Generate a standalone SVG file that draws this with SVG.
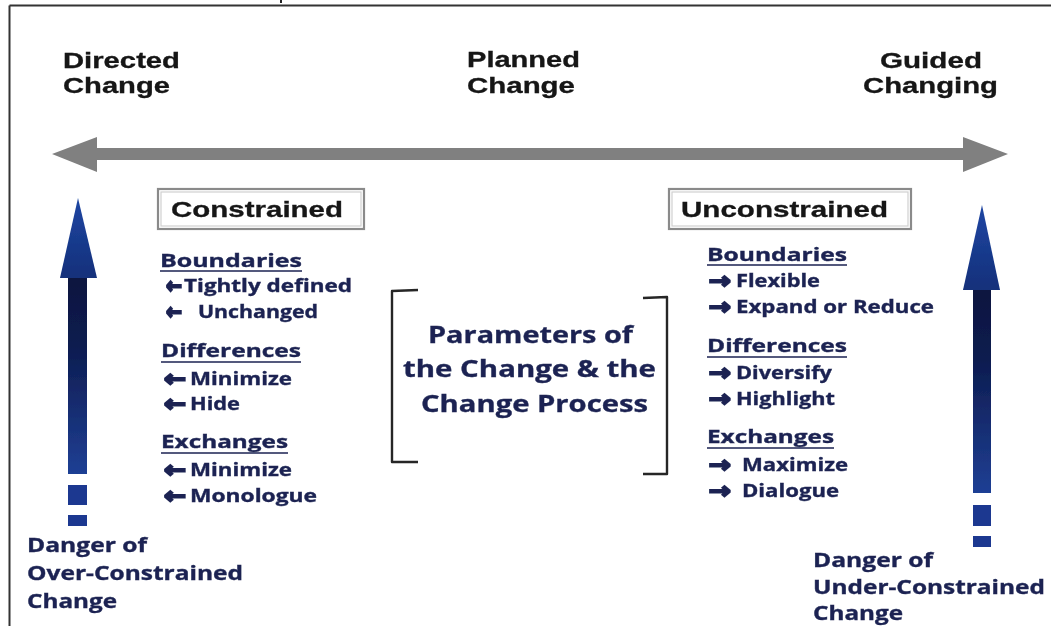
<svg xmlns="http://www.w3.org/2000/svg" width="1051" height="626" viewBox="0 0 1051 626">
  <defs>
    <linearGradient id="shaftGrad" x1="0" y1="0" x2="0" y2="1">
      <stop offset="0" stop-color="#0a163f"/>
      <stop offset="0.35" stop-color="#0d1c50"/>
      <stop offset="1" stop-color="#1f3f94"/>
    </linearGradient>
    <linearGradient id="headGrad" x1="0" y1="0" x2="0" y2="1">
      <stop offset="0" stop-color="#1f46a3"/>
      <stop offset="1" stop-color="#13307a"/>
    </linearGradient>
    <filter id="soft" x="-5%" y="-5%" width="110%" height="110%">
      <feGaussianBlur stdDeviation="0.45"/>
    </filter>
    <style>
      .hdr { font-family: "Liberation Sans", Arial, sans-serif; font-weight: bold; font-size: 22px; fill: #141414; stroke: #141414; stroke-width: 0.3; }
      .box { fill: #ffffff; stroke: #8a8a8a; stroke-width: 2.2; }
      .boxIn { fill: none; stroke: #d0d0d0; stroke-width: 1.2; }
      .boxTxt { font-family: "Liberation Sans", Arial, sans-serif; font-weight: bold; font-size: 22px; fill: #161616; stroke: #161616; stroke-width: 0.3; }
      .item { font-family: "Open Sans", "Liberation Sans", sans-serif; font-weight: bold; font-size: 17px; fill: #1c2452; stroke: #1c2452; stroke-width: 0.35; }
      .arr { font-family: "DejaVu Sans", sans-serif; font-weight: bold; font-size: 22px; fill: #1c2452; stroke: #1c2452; stroke-width: 2; stroke-linejoin: miter; }
      .ul { stroke: #1c2452; stroke-width: 1.6; }
      .mid { font-family: "Open Sans", "Liberation Sans", sans-serif; font-weight: bold; font-size: 24px; fill: #1c2452; stroke: #1c2452; stroke-width: 0.35; }
      .danger { font-family: "Open Sans", "Liberation Sans", sans-serif; font-weight: bold; font-size: 19px; fill: #1c2452; stroke: #1c2452; stroke-width: 0.35; }
      .brk { fill: none; stroke: #262626; stroke-width: 2.4; stroke-linejoin: round; }
      .dash { fill: #1a3890; }
    </style>
  </defs>

  <rect width="1051" height="626" fill="#ffffff"/>

  <!-- outer frame: top and left rules only -->
  <g id="frame">
    <line x1="9.5" y1="5.5" x2="1051" y2="5.5" stroke="#333333" stroke-width="2"/>
    <line x1="9.5" y1="5.5" x2="9.5" y2="626" stroke="#333333" stroke-width="2"/>
    <rect x="280" y="0" width="2" height="3" fill="#222222"/>
  </g>

  <g filter="url(#soft)">
    <!-- connectors: horizontal scale and the two vertical danger arrows -->
    <g id="connectors">
      <polygon id="scale-arrow" fill="#808080"
        points="52,154 97,137 97,148 963,148 963,137 1008,154 963,172 963,160 97,160 97,172"/>
      <g id="arrow-over">
        <polygon points="78,198 97,278 60,278" fill="url(#headGrad)"/>
        <rect x="68" y="278" width="19" height="196" fill="url(#shaftGrad)"/>
        <rect class="dash" x="68" y="485" width="19" height="20"/>
        <rect class="dash" x="68" y="515" width="19" height="11"/>
      </g>
      <g id="arrow-under">
        <polygon points="982,205 1000,290 963,290" fill="url(#headGrad)"/>
        <rect x="973" y="290" width="18" height="203" fill="url(#shaftGrad)"/>
        <rect class="dash" x="973" y="505" width="18" height="21"/>
        <rect class="dash" x="973" y="536" width="18" height="11"/>
      </g>
    </g>

    <!-- scale headings -->
    <g id="directed-change">
      <text class="hdr" x="63" y="68" textLength="117" lengthAdjust="spacingAndGlyphs">Directed</text>
      <text class="hdr" x="63" y="93" textLength="107" lengthAdjust="spacingAndGlyphs">Change</text>
    </g>
    <g id="planned-change">
      <text class="hdr" x="467" y="67" textLength="113" lengthAdjust="spacingAndGlyphs">Planned</text>
      <text class="hdr" x="467" y="93" textLength="108" lengthAdjust="spacingAndGlyphs">Change</text>
    </g>
    <g id="guided-changing">
      <text class="hdr" x="880" y="68" textLength="102" lengthAdjust="spacingAndGlyphs">Guided</text>
      <text class="hdr" x="863" y="93" textLength="135" lengthAdjust="spacingAndGlyphs">Changing</text>
    </g>

    <!-- constrained side -->
    <g id="constrained">
      <rect class="box" x="158" y="189" width="206" height="40"/>
      <rect class="boxIn" x="161" y="192" width="200" height="34"/>
      <text class="boxTxt" x="171" y="217" textLength="172" lengthAdjust="spacingAndGlyphs">Constrained</text>
    </g>
    <g id="constrained-list">
      <text class="item" x="160" y="267" textLength="142" lengthAdjust="spacingAndGlyphs">Boundaries</text>
      <line class="ul" x1="160" y1="271" x2="302" y2="271"/>
      <text class="arr" x="166" y="293" textLength="16" lengthAdjust="spacingAndGlyphs">←</text>
      <text class="item" x="184" y="292" textLength="168" lengthAdjust="spacingAndGlyphs">Tightly defined</text>
      <text class="arr" x="166" y="319" textLength="16" lengthAdjust="spacingAndGlyphs">←</text>
      <text class="item" x="198" y="318" textLength="120" lengthAdjust="spacingAndGlyphs">Unchanged</text>

      <text class="item" x="161" y="357" textLength="140" lengthAdjust="spacingAndGlyphs">Differences</text>
      <line class="ul" x1="161" y1="362" x2="301" y2="362"/>
      <text class="arr" x="164" y="386" textLength="22" lengthAdjust="spacingAndGlyphs">←</text>
      <text class="item" x="190" y="385" textLength="102" lengthAdjust="spacingAndGlyphs">Minimize</text>
      <text class="arr" x="164" y="411" textLength="22" lengthAdjust="spacingAndGlyphs">←</text>
      <text class="item" x="190" y="410" textLength="50" lengthAdjust="spacingAndGlyphs">Hide</text>

      <text class="item" x="161" y="448" textLength="127" lengthAdjust="spacingAndGlyphs">Exchanges</text>
      <line class="ul" x1="161" y1="453" x2="288" y2="453"/>
      <text class="arr" x="164" y="477" textLength="22" lengthAdjust="spacingAndGlyphs">←</text>
      <text class="item" x="190" y="476" textLength="102" lengthAdjust="spacingAndGlyphs">Minimize</text>
      <text class="arr" x="164" y="503" textLength="22" lengthAdjust="spacingAndGlyphs">←</text>
      <text class="item" x="190" y="502" textLength="127" lengthAdjust="spacingAndGlyphs">Monologue</text>
    </g>

    <!-- unconstrained side -->
    <g id="unconstrained">
      <rect class="box" x="669" y="189" width="242" height="40"/>
      <rect class="boxIn" x="672" y="192" width="236" height="34"/>
      <text class="boxTxt" x="681" y="217" textLength="207" lengthAdjust="spacingAndGlyphs">Unconstrained</text>
    </g>
    <g id="unconstrained-list">
      <text class="item" x="707" y="261" textLength="140" lengthAdjust="spacingAndGlyphs">Boundaries</text>
      <line class="ul" x1="707" y1="265" x2="847" y2="265"/>
      <text class="arr" x="709" y="288" textLength="22" lengthAdjust="spacingAndGlyphs">→</text>
      <text class="item" x="736" y="287" textLength="84" lengthAdjust="spacingAndGlyphs">Flexible</text>
      <text class="arr" x="709" y="314" textLength="22" lengthAdjust="spacingAndGlyphs">→</text>
      <text class="item" x="736" y="313" textLength="198" lengthAdjust="spacingAndGlyphs">Expand or Reduce</text>

      <text class="item" x="707" y="352" textLength="140" lengthAdjust="spacingAndGlyphs">Differences</text>
      <line class="ul" x1="707" y1="357" x2="847" y2="357"/>
      <text class="arr" x="709" y="380" textLength="22" lengthAdjust="spacingAndGlyphs">→</text>
      <text class="item" x="736" y="379" textLength="96" lengthAdjust="spacingAndGlyphs">Diversify</text>
      <text class="arr" x="709" y="406" textLength="22" lengthAdjust="spacingAndGlyphs">→</text>
      <text class="item" x="736" y="405" textLength="99" lengthAdjust="spacingAndGlyphs">Highlight</text>

      <text class="item" x="707" y="443" textLength="127" lengthAdjust="spacingAndGlyphs">Exchanges</text>
      <line class="ul" x1="707" y1="448" x2="834" y2="448"/>
      <text class="arr" x="709" y="472" textLength="22" lengthAdjust="spacingAndGlyphs">→</text>
      <text class="item" x="742" y="471" textLength="106" lengthAdjust="spacingAndGlyphs">Maximize</text>
      <text class="arr" x="709" y="498" textLength="22" lengthAdjust="spacingAndGlyphs">→</text>
      <text class="item" x="742" y="497" textLength="97" lengthAdjust="spacingAndGlyphs">Dialogue</text>
    </g>

    <!-- central bracketed statement -->
    <g id="parameters">
      <path class="brk" d="M418,290 L392,291 L392,462 L418,462"/>
      <path class="brk" d="M643,298 L667,297 L667,474 L643,474"/>
      <text class="mid" x="428" y="343" textLength="205" lengthAdjust="spacingAndGlyphs">Parameters of</text>
      <text class="mid" x="403" y="377" textLength="253" lengthAdjust="spacingAndGlyphs">the Change &amp; the</text>
      <text class="mid" x="421" y="412" textLength="227" lengthAdjust="spacingAndGlyphs">Change Process</text>
    </g>

    <!-- danger captions -->
    <g id="danger-over">
      <text class="danger" x="27" y="552" textLength="120" lengthAdjust="spacingAndGlyphs">Danger of</text>
      <text class="danger" x="27" y="580" textLength="216" lengthAdjust="spacingAndGlyphs">Over-Constrained</text>
      <text class="danger" x="27" y="608" textLength="90" lengthAdjust="spacingAndGlyphs">Change</text>
    </g>
    <g id="danger-under">
      <text class="danger" x="813" y="567" textLength="120" lengthAdjust="spacingAndGlyphs">Danger of</text>
      <text class="danger" x="813" y="594" textLength="232" lengthAdjust="spacingAndGlyphs">Under-Constrained</text>
      <text class="danger" x="813" y="620" textLength="90" lengthAdjust="spacingAndGlyphs">Change</text>
    </g>
  </g>
</svg>
